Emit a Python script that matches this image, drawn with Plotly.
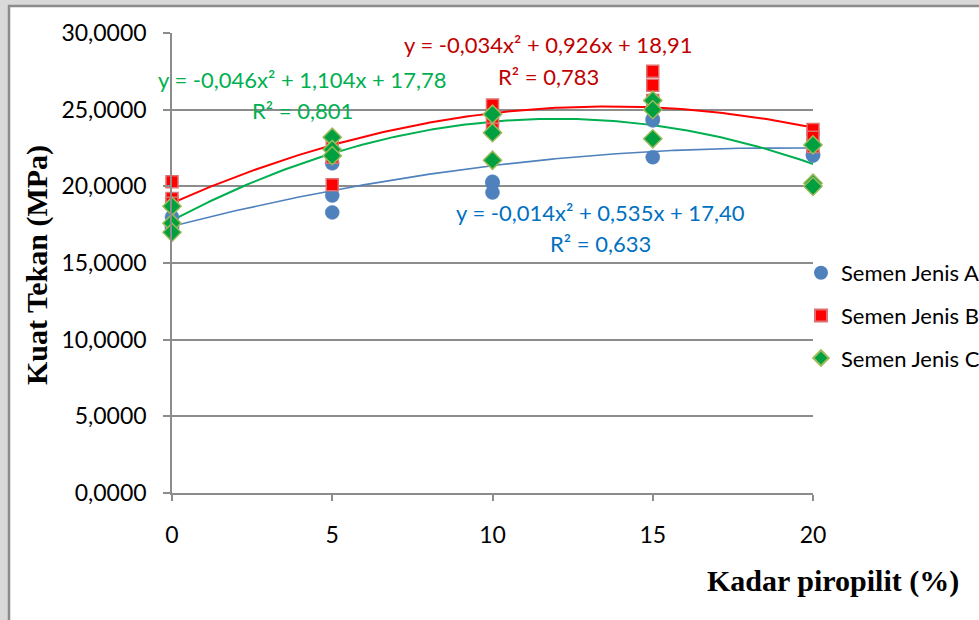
import plotly.graph_objects as go
import numpy as np

# ---- data ----
x_levels = [0, 0, 0, 5, 5, 5, 10, 10, 10, 15, 15, 15, 20, 20, 20]
semen_a = [18.0, 17.4, 17.3, 21.5, 19.4, 18.3, 20.3, 20.2, 19.6, 24.4, 24.3, 21.9, 22.1, 22.0, 20.1]
semen_b = [20.3, 19.2, 18.9, 22.8, 21.9, 20.1, 25.3, 24.5, 23.7, 27.5, 26.6, 25.6, 23.7, 23.2, 22.6]
semen_c = [18.7, 17.6, 17.0, 23.2, 22.4, 22.0, 24.7, 23.5, 21.7, 25.6, 25.0, 23.1, 22.7, 20.2, 20.0]

series_names = ["Semen Jenis A", "Semen Jenis B", "Semen Jenis C"]
# trendline coefficients shown on the chart (a, b, c) for y = a x^2 + b x + c
coef_a = [-0.014, 0.535, 17.40]
coef_b = [-0.034, 0.926, 18.91]
coef_c = [-0.046, 1.104, 17.78]
eq_a = ["y = -0,014x² + 0,535x + 17,40", "R² = 0,633"]
eq_b = ["y = -0,034x² + 0,926x + 18,91", "R² = 0,783"]
eq_c = ["y = -0,046x² + 1,104x + 17,78", "R² = 0,801"]

y_ticks = [0, 5, 10, 15, 20, 25, 30]
y_ticklabels = ["0,0000", "5,0000", "10,0000", "15,0000", "20,0000", "25,0000", "30,0000"]
x_ticks = [0, 5, 10, 15, 20]

# ---- figure ----
W, H = 979, 620
L, R, T, B = 172, 813, 33, 493
pw, ph = R - L, B - T

def px(xp):
    return (xp - L) / pw

def py(yp):
    return (B - yp) / ph

FONT = "Lato"
FS = 21
TFS = 23
blue = "#4F81BD"
red = "#FF0000"
green = "#00B050"

fig = go.Figure()

xs = np.linspace(0, 20, 200)
for coef, col, w in [(coef_a, blue, 1.6), (coef_b, red, 2), (coef_c, green, 2)]:
    fig.add_trace(go.Scatter(x=xs, y=np.polyval(coef, xs), mode="lines",
                             line=dict(color=col, width=w), showlegend=False,
                             hoverinfo="skip", cliponaxis=False))

fig.add_trace(go.Scatter(x=x_levels, y=semen_a, mode="markers", name=series_names[0],
                         legendgroup="a",
                         marker=dict(symbol="circle", size=14, color=blue,
                                     line=dict(color=blue, width=0.5)),
                         cliponaxis=False))
fig.add_trace(go.Scatter(x=x_levels, y=semen_b, mode="markers", name=series_names[1],
                         legendgroup="b",
                         marker=dict(symbol="square", size=12, color=red,
                                     line=dict(color="#E07070", width=1.5)),
                         cliponaxis=False))
fig.add_trace(go.Scatter(x=x_levels, y=semen_c, mode="markers", name=series_names[2],
                         legendgroup="c",
                         marker=dict(symbol="diamond", size=14, color="#00A040",
                                     line=dict(color="#9BBB59", width=1.5)),
                         cliponaxis=False))

annotations = []
def add_eq(lines, col, xc, y1, y2):
    for txt, yy in zip(lines, [y1, y2]):
        annotations.append(dict(text=txt, x=px(xc), y=py(yy), xref="paper", yref="paper",
                                showarrow=False, xanchor="center", yanchor="middle",
                                font=dict(family=FONT, size=22, color=col)))

add_eq(eq_b, "#C00000", 548, 45, 76)
add_eq(eq_c, "#00B050", 302, 80, 110)
add_eq(eq_a, "#0070C0", 600, 213, 243)

annotations.append(dict(text="<b>Kadar piropilit (%)</b>", x=px(833), y=py(581),
                        xref="paper", yref="paper", showarrow=False,
                        xanchor="center", yanchor="middle",
                        font=dict(family="Liberation Serif", size=30, color="black")))
annotations.append(dict(text="<b>Kuat Tekan (MPa)</b>", x=px(37), y=py(265),
                        xref="paper", yref="paper", showarrow=False, textangle=-90,
                        xanchor="center", yanchor="middle",
                        font=dict(family="Liberation Serif", size=30, color="black")))

shapes = [
    dict(type="rect", xref="paper", yref="paper", x0=px(9), x1=px(990), y0=py(6), y1=py(630),
         line=dict(color="#8C8C8C", width=2.5), fillcolor="white", layer="below"),
]

fig.update_layout(
    width=W, height=H,
    margin=dict(l=L, r=W - R, t=T, b=H - B, autoexpand=False),
    paper_bgcolor="#D9D9D9",
    plot_bgcolor="rgba(0,0,0,0)",
    font=dict(family=FONT, size=FS, color="black"),
    showlegend=True,
    legend=dict(x=px(801), y=py(252), xanchor="left", yanchor="top",
                bgcolor="rgba(0,0,0,0)", font=dict(family=FONT, size=22),
                itemsizing="constant", tracegroupgap=11, itemwidth=30),
    annotations=annotations,
    shapes=shapes,
    xaxis=dict(range=[0, 20], tickvals=x_ticks, showgrid=False, zeroline=False,
               showline=True, linecolor="#8C8C8C", linewidth=1.5,
               ticks="outside", ticklen=6, tickcolor="#8C8C8C", tickwidth=1.5,
               ticklabelstandoff=15, tickfont=dict(family=FONT, size=TFS)),
    yaxis=dict(range=[0, 30], tickvals=y_ticks, ticktext=y_ticklabels,
               showgrid=True, gridcolor="#8C8C8C", gridwidth=1.5, zeroline=False,
               showline=True, linecolor="#8C8C8C", linewidth=1.5,
               ticks="outside", ticklen=7, tickcolor="#8C8C8C", tickwidth=1.5,
               ticklabelstandoff=12, tickfont=dict(family=FONT, size=TFS)),
)

fig.write_html("out.html", config={"displayModeBar": False},
               post_script="document.body.style.margin='0';")
